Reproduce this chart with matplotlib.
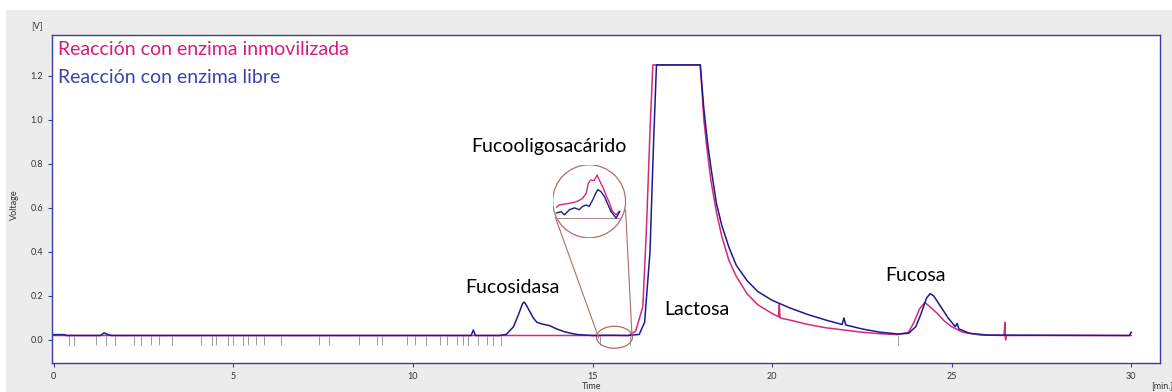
import numpy as np
import matplotlib.pyplot as plt
from matplotlib.patches import Ellipse, Rectangle

plt.rcParams['font.family'] = ['Lato', 'DejaVu Sans']

# cromatograma, reaccion con enzima libre (azul)
t_libre = [0.0, 0.3, 0.35, 1.3, 1.4, 1.5, 1.6, 11.62, 11.68, 11.74, 12.4, 12.6, 12.8, 12.95,
           13.05, 13.1, 13.15, 13.25, 13.35, 13.45, 13.6, 13.8, 14.0, 14.2, 14.4, 14.6, 15.0,
           15.5, 16.0, 16.3, 16.45, 16.6, 16.7, 16.78, 18.0, 18.1, 18.2, 18.3, 18.45, 18.6, 18.8,
           19.0, 19.3, 19.6, 20.0, 20.5, 21.0, 21.5, 21.95, 22.0, 22.05, 22.5, 23.0, 23.5, 23.8,
           24.0, 24.15, 24.3, 24.4, 24.5, 24.7, 24.9, 25.1, 25.15, 25.2, 25.5, 26.0, 29.95, 30.0]
v_libre = [0.024, 0.024, 0.02, 0.02, 0.032, 0.025, 0.02, 0.02, 0.045, 0.02, 0.02, 0.025, 0.06, 0.12,
           0.165, 0.172, 0.16, 0.13, 0.1, 0.08, 0.072, 0.065, 0.05, 0.038, 0.03, 0.024, 0.02,
           0.021, 0.02, 0.025, 0.08, 0.4, 0.9, 1.25, 1.25, 1.05, 0.9, 0.78, 0.62, 0.52, 0.42,
           0.34, 0.27, 0.22, 0.18, 0.145, 0.115, 0.09, 0.07, 0.10, 0.068, 0.05, 0.035, 0.027, 0.03,
           0.06, 0.12, 0.19, 0.21, 0.2, 0.15, 0.1, 0.06, 0.075, 0.05, 0.03, 0.022, 0.02, 0.035]

# cromatograma, reaccion con enzima inmovilizada (rosa)
t_inmov = [0.0, 16.0, 16.2, 16.4, 16.5, 16.6, 16.68, 18.0, 18.1, 18.2, 18.3, 18.45, 18.6, 18.8,
           19.0, 19.3, 19.6, 20.0, 20.18, 20.2, 20.22, 20.5, 21.0, 21.5, 22.0, 22.5, 23.0, 23.5,
           23.8, 23.95, 24.1, 24.25, 24.4, 24.6, 24.8, 25.0, 25.3, 25.8, 26.46, 26.48, 26.5,
           26.52, 30.0]
v_inmov = [0.02, 0.02, 0.04, 0.15, 0.5, 0.95, 1.25, 1.25, 1.0, 0.85, 0.72, 0.58, 0.47, 0.36,
           0.29, 0.21, 0.16, 0.12, 0.105, 0.16, 0.1, 0.09, 0.07, 0.055, 0.045, 0.035, 0.028, 0.024,
           0.035, 0.08, 0.14, 0.17, 0.15, 0.12, 0.085, 0.06, 0.035, 0.022, 0.02, 0.08, 0.0,
           0.02, 0.02]

# marcas de integracion sobre la linea base
marcas = [0.42, 0.55, 1.17, 1.46, 1.70, 2.23, 2.44, 2.71, 2.92, 3.29, 4.09, 4.41, 4.52, 4.84,
          5.0, 5.26, 5.42, 5.64, 5.85, 6.33, 7.39, 7.66, 8.51, 8.99, 9.15, 9.84, 10.05, 10.37,
          10.74, 10.96, 11.22, 11.38, 11.54, 11.81, 12.07, 12.23, 12.45, 15.2, 16.05, 23.5]

# detalle ampliado del fucooligosacarido (coordenadas del circulo, 0-1)
zx_inmov = [0.055, 0.09, 0.18, 0.27, 0.34, 0.41, 0.46, 0.49, 0.52, 0.57, 0.61, 0.64, 0.685,
            0.73, 0.78, 0.82, 0.87, 0.91]
zy_inmov = [0.42, 0.45, 0.465, 0.48, 0.50, 0.54, 0.61, 0.75, 0.79, 0.785, 0.86, 0.79, 0.70,
            0.59, 0.475, 0.36, 0.315, 0.36]
zx_libre = [0.055, 0.115, 0.16, 0.23, 0.30, 0.365, 0.41, 0.46, 0.50, 0.55, 0.59, 0.62, 0.66,
            0.71, 0.75, 0.80, 0.87, 0.92]
zy_libre = [0.34, 0.36, 0.315, 0.385, 0.41, 0.385, 0.43, 0.45, 0.43, 0.52, 0.61, 0.66, 0.635,
            0.565, 0.475, 0.36, 0.27, 0.36]

azul = '#1c1c8a'
rosa = '#d42a7c'
marron = '#b36b6b'
eje = '#3d3d9e'

fig = plt.figure(figsize=(11.72, 3.92), dpi=100, facecolor='white')
fig.patches.append(Rectangle((6 / 1172, 0), 1, 1 - 10 / 392, transform=fig.transFigure,
                             facecolor='#ececec', edgecolor='none', zorder=-10))
ax = fig.add_axes([52 / 1172, 1 - 363 / 392, 1108 / 1172, 328 / 392])
ax.set_facecolor('white')

ax.vlines(marcas, -0.025, 0.02, color='#8a8a8a', lw=0.6)
ax.plot(t_inmov, v_inmov, color=rosa, lw=1.1)
ax.plot(t_libre, v_libre, color=azul, lw=1.1)

ax.set_xlim(-0.05, 30.8)
ax.set_ylim(-0.105, 1.386)
ax.set_xticks([0, 5, 10, 15, 20, 25, 30])
ax.set_yticks([0.0, 0.2, 0.4, 0.6, 0.8, 1.0, 1.2])
ax.set_yticklabels(['0.0', '0.2', '0.4', '0.6', '0.8', '1.0', '1.2'])
ax.tick_params(labelsize=6.5, colors='#333333', length=3, width=0.8)
ax.tick_params(axis='both', color=eje)
for s in ax.spines.values():
    s.set_color(eje)
    s.set_linewidth(1.0)

# lupa sobre el fucooligosacarido
ax.add_patch(Ellipse((15.61, 0.012), 1.0, 0.1, fill=False, edgecolor=marron, lw=0.9))
ax.plot([13.97, 15.17], [0.555, 0.01], color=marron, lw=0.8)
ax.plot([15.92, 16.1], [0.59, 0.015], color=marron, lw=0.8)
axin = ax.inset_axes([13.89, 0.464, 2.03, 0.332], transform=ax.transData)
axin.set_xlim(0, 1)
axin.set_ylim(0, 1)
axin.axis('off')
circ = Ellipse((0.5, 0.5), 1, 1, transform=axin.transAxes, facecolor='white',
               edgecolor=marron, lw=0.9)
axin.add_patch(circ)
axin.plot([0.07, 0.93], [0.27, 0.27], color='#a08888', lw=0.7, clip_path=circ)
axin.plot(zx_inmov, zy_inmov, color=rosa, lw=1.0, clip_path=circ)
axin.plot(zx_libre, zy_libre, color=azul, lw=1.0, clip_path=circ)

# textos
ax.text(13.78, 0.877, 'Fucooligosacárido', fontsize=14, ha='center', va='center')
ax.text(12.78, 0.24, 'Fucosidasa', fontsize=14, ha='center', va='center')
ax.text(17.9, 0.136, 'Lactosa', fontsize=14, ha='center', va='center')
ax.text(24.0, 0.295, 'Fucosa', fontsize=14, ha='center', va='center')
ax.text(0.005, 0.982, 'Reacción con enzima inmovilizada', transform=ax.transAxes,
        fontsize=14, color='#d81b7a', va='top')
ax.text(0.005, 0.895, 'Reacción con enzima libre', transform=ax.transAxes,
        fontsize=14, color='#4040b0', va='top')

fig.text(37 / 1172, 1 - 28 / 392, '[V]', fontsize=6.5, color='#333333', ha='center')
fig.text(14 / 1172, 1 - 205 / 392, 'Voltage', fontsize=6.5, color='#333333', rotation=90,
         ha='center', va='center')
fig.text(592 / 1172, 1 / 392, 'Time', fontsize=6.5, color='#333333', ha='center', va='bottom')
fig.text(1162 / 1172, 1 - 388 / 392, '[min.]', fontsize=6.5, color='#333333', ha='center')

fig.savefig('out.png', dpi=100, facecolor=fig.get_facecolor())
